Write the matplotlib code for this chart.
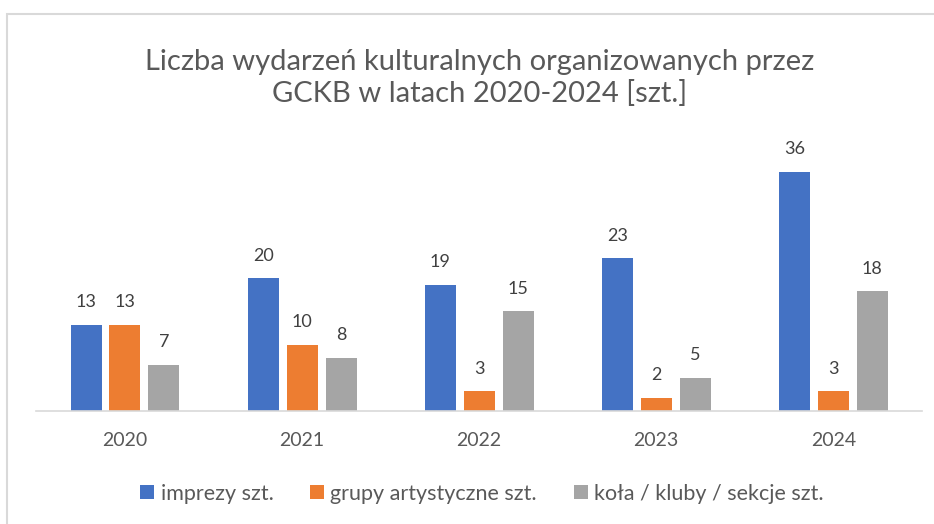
import matplotlib.pyplot as plt
import matplotlib.patches as mpatches
import numpy as np

plt.rcParams['font.family'] = ['Lato', 'DejaVu Sans']

years = ['2020', '2021', '2022', '2023', '2024']
imprezy = [13, 20, 19, 23, 36]
grupy = [13, 10, 3, 2, 3]
kola = [7, 8, 15, 5, 18]
series_names = ['imprezy szt.', 'grupy artystyczne szt.', 'koła / kluby / sekcje szt.']
colors = ['#4472C4', '#ED7D31', '#A5A5A5']

fig = plt.figure(figsize=(9.34, 5.24), dpi=100)
ax = fig.add_axes([0.039, 0.2156, 0.948, 0.507])

x = np.arange(len(years))
width = 0.175
step = 0.22

for i, (vals, name, c) in enumerate(zip([imprezy, grupy, kola], series_names, colors)):
    bars = ax.bar(x + (i - 1) * step, vals, width, color=c, label=name)
    for bar, v in zip(bars, vals):
        ax.annotate(str(v), xy=(bar.get_x() + bar.get_width() / 2, v),
                    xytext=(0, 10.5), textcoords='offset points',
                    ha='center', va='bottom', fontsize=13, color='#404040')

ax.set_xlim(-0.5, len(years) - 0.5)
ax.set_ylim(0, 40)
ax.set_xticks(x)
ax.set_xticklabels(years, fontsize=14, color='#595959')
ax.tick_params(axis='x', length=0, pad=15)
ax.set_yticks([])
for s in ['top', 'right', 'left']:
    ax.spines[s].set_visible(False)
ax.spines['bottom'].set_color('#d9d9d9')
ax.spines['bottom'].set_linewidth(1.2)

fig.text(0.513, 0.851, 'Liczba wydarzeń kulturalnych organizowanych przez\nGCKB w latach 2020-2024 [szt.]',
         ha='center', va='center', fontsize=21, color='#595959', linespacing=1.25)

fig.legend(loc='center', bbox_to_anchor=(0.516, 0.058), ncol=3, frameon=False,
           fontsize=15.5, labelcolor='#595959', handlelength=0.65, handleheight=0.65,
           handletextpad=0.3, columnspacing=1.7)

# light frame around the chart (cropped on right and bottom)
fig.add_artist(mpatches.Rectangle((7 / 934, -0.1), 2, 1 - 14 / 524 + 0.1,
                                  transform=fig.transFigure, fill=False,
                                  edgecolor='#d9d9d9', linewidth=1.5))

plt.savefig('out.png', dpi=100, facecolor='white')
